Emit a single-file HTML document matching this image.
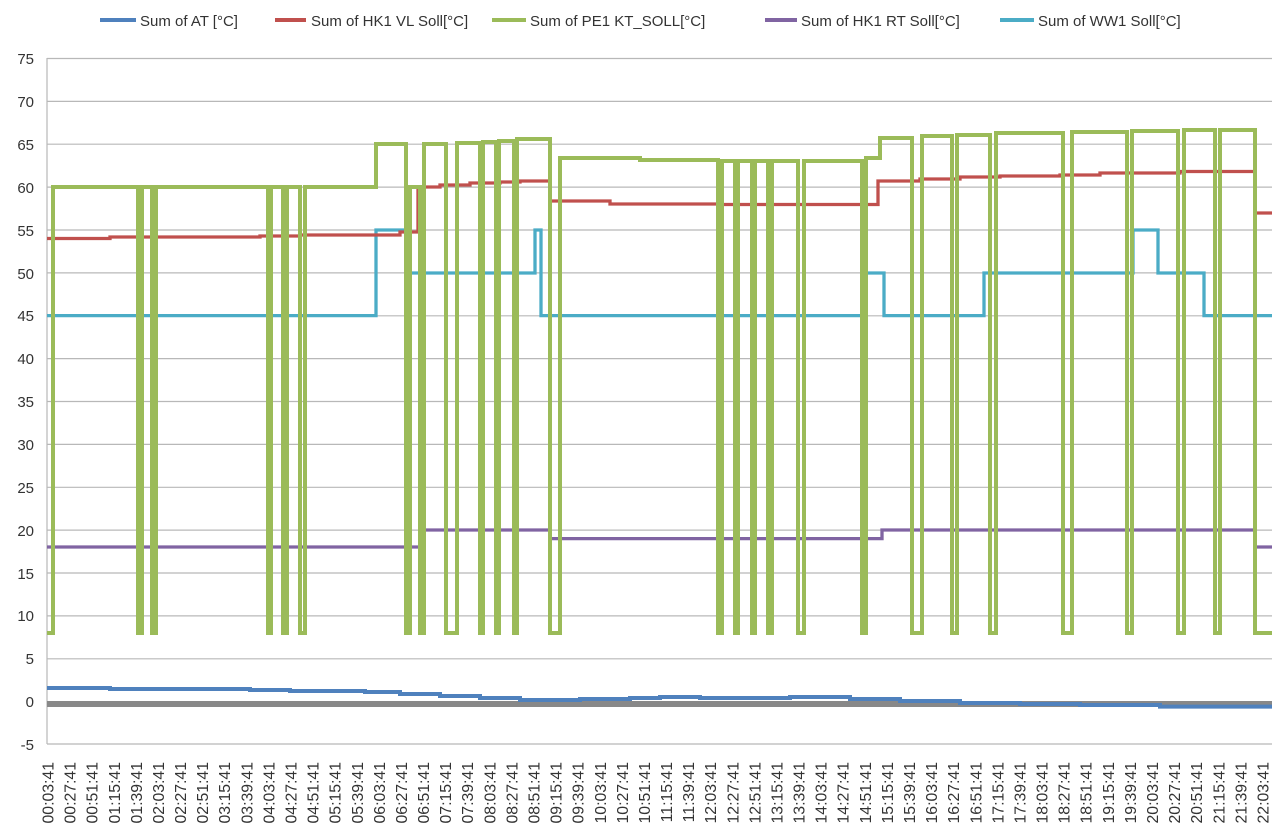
<!DOCTYPE html>
<html><head><meta charset="utf-8"><style>
body{margin:0;background:#fff;}
svg{display:block;font-family:"Liberation Sans",sans-serif;}
</style></head><body>
<svg width="1280" height="837" viewBox="0 0 1280 837" xmlns="http://www.w3.org/2000/svg">
<rect width="1280" height="837" fill="#fff"/>
<g stroke="#b8b8b8" stroke-width="1.2">
<line x1="47" x2="1272" y1="58.5" y2="58.5"/><line x1="47" x2="1272" y1="101.4" y2="101.4"/>
<line x1="47" x2="1272" y1="144.2" y2="144.2"/><line x1="47" x2="1272" y1="187.1" y2="187.1"/>
<line x1="47" x2="1272" y1="230" y2="230"/><line x1="47" x2="1272" y1="272.9" y2="272.9"/>
<line x1="47" x2="1272" y1="315.8" y2="315.8"/><line x1="47" x2="1272" y1="358.6" y2="358.6"/>
<line x1="47" x2="1272" y1="401.5" y2="401.5"/><line x1="47" x2="1272" y1="444.4" y2="444.4"/>
<line x1="47" x2="1272" y1="487.3" y2="487.3"/><line x1="47" x2="1272" y1="530.1" y2="530.1"/>
<line x1="47" x2="1272" y1="573" y2="573"/><line x1="47" x2="1272" y1="615.9" y2="615.9"/>
<line x1="47" x2="1272" y1="658.8" y2="658.8"/><line x1="47" x2="1272" y1="744" y2="744"/>
<line x1="47" x2="47" y1="58" y2="744"/>
</g>
<g font-size="15" fill="#333" text-anchor="end">
<text x="34" y="64">75</text><text x="34" y="107">70</text><text x="34" y="150">65</text><text x="34" y="193">60</text>
<text x="34" y="236">55</text><text x="34" y="279">50</text><text x="34" y="321">45</text><text x="34" y="364">40</text>
<text x="34" y="407">35</text><text x="34" y="450">30</text><text x="34" y="493">25</text><text x="34" y="536">20</text>
<text x="34" y="579">15</text><text x="34" y="621">10</text><text x="34" y="664">5</text><text x="34" y="707">0</text>
<text x="34" y="750">-5</text>
</g>
<line x1="47" x2="1272" y1="704" y2="704" stroke="#888" stroke-width="6"/>
<path d="M47,688 H110 V689 H250 V690 H290 V691 H365 V692 H400 V694 H440 V696 H480 V698 H520 V700 H580 V699 H630 V698 H660 V697 H700 V698 H790 V697 H850 V699 H900 V701 H960 V703 H1020 V704 H1080 V705 H1160 V706.6 H1272" fill="none" stroke="#4f81bd" stroke-width="4"/>
<path d="M47,547 H420 V530 H550 V538.6 H882 V530 H1255 V547 H1272" fill="none" stroke="#8064a2" stroke-width="3.3"/>
<path d="M47,315.6 H376 V230 H407 V273 H535 V230 H541 V315.6 H864 V273 H884 V315.6 H984 V273 H1133 V230 H1158 V273 H1204 V315.6 H1272" fill="none" stroke="#4bacc6" stroke-width="3.3"/>
<path d="M47,238.5 H110 V237 H260 V236 H300 V235 H400 V232 H418 V187 H440 V185 H470 V183 H500 V182 H520 V181 H550 V201 H610 V204 H720 V204.5 H878 V181 H920 V179 H960 V177 H1000 V176 H1060 V175 H1100 V173 H1180 V171.5 H1255 V213 H1272" fill="none" stroke="#c0504d" stroke-width="3.3"/>
<path d="M47,633 H53 V187 H138 V633 H142 V187 H152 V633 H156 V187 H268 V633 H271 V187 H283 V633 H287 V187 H300 V633 H305 V187 H376 V144 H406 V633 H410 V187 H420 V633 H424 V144 H446 V633 H457 V143 H480 V633 H483 V142 H496 V633 H499 V141 H514 V633 H517 V139 H550 V633 H560 V158 H640 V160 H718 V633 H722 V161 H735 V633 H738 V161 H752 V633 H755 V161 H768 V633 H772 V161 H798 V633 H804 V161 H862 V633 H866 V158 H880 V138 H912 V633 H922 V136 H952 V633 H957 V135 H990 V633 H996 V133 H1063 V633 H1072 V132 H1127 V633 H1132 V131 H1178 V633 H1184 V130 H1215 V633 H1220 V130 H1255 V633 H1272" fill="none" stroke="#9bbb59" stroke-width="4"/>
<g font-size="15" fill="#333">
<line x1="100" x2="136" y1="20" y2="20" stroke="#4f81bd" stroke-width="4"/><text x="140" y="26">Sum of AT [°C]</text>
<line x1="275" x2="306" y1="20" y2="20" stroke="#c0504d" stroke-width="4"/><text x="311" y="26">Sum of HK1  VL Soll[°C]</text>
<line x1="492" x2="526" y1="20" y2="20" stroke="#9bbb59" stroke-width="4"/><text x="530" y="26">Sum of PE1 KT_SOLL[°C]</text>
<line x1="765" x2="797" y1="20" y2="20" stroke="#8064a2" stroke-width="4"/><text x="801" y="26">Sum of HK1 RT Soll[°C]</text>
<line x1="1000" x2="1034" y1="20" y2="20" stroke="#4bacc6" stroke-width="4"/><text x="1038" y="26">Sum of WW1 Soll[°C]</text>
</g>
<g font-size="15.8" fill="#333" text-anchor="end">
<text transform="translate(53.5,762) rotate(-90)">00:03:41</text>
<text transform="translate(75.6,762) rotate(-90)">00:27:41</text>
<text transform="translate(97.7,762) rotate(-90)">00:51:41</text>
<text transform="translate(119.8,762) rotate(-90)">01:15:41</text>
<text transform="translate(141.9,762) rotate(-90)">01:39:41</text>
<text transform="translate(164.0,762) rotate(-90)">02:03:41</text>
<text transform="translate(186.0,762) rotate(-90)">02:27:41</text>
<text transform="translate(208.1,762) rotate(-90)">02:51:41</text>
<text transform="translate(230.2,762) rotate(-90)">03:15:41</text>
<text transform="translate(252.3,762) rotate(-90)">03:39:41</text>
<text transform="translate(274.4,762) rotate(-90)">04:03:41</text>
<text transform="translate(296.5,762) rotate(-90)">04:27:41</text>
<text transform="translate(318.6,762) rotate(-90)">04:51:41</text>
<text transform="translate(340.7,762) rotate(-90)">05:15:41</text>
<text transform="translate(362.8,762) rotate(-90)">05:39:41</text>
<text transform="translate(384.9,762) rotate(-90)">06:03:41</text>
<text transform="translate(406.9,762) rotate(-90)">06:27:41</text>
<text transform="translate(429.0,762) rotate(-90)">06:51:41</text>
<text transform="translate(451.1,762) rotate(-90)">07:15:41</text>
<text transform="translate(473.2,762) rotate(-90)">07:39:41</text>
<text transform="translate(495.3,762) rotate(-90)">08:03:41</text>
<text transform="translate(517.4,762) rotate(-90)">08:27:41</text>
<text transform="translate(539.5,762) rotate(-90)">08:51:41</text>
<text transform="translate(561.6,762) rotate(-90)">09:15:41</text>
<text transform="translate(583.7,762) rotate(-90)">09:39:41</text>
<text transform="translate(605.8,762) rotate(-90)">10:03:41</text>
<text transform="translate(627.8,762) rotate(-90)">10:27:41</text>
<text transform="translate(649.9,762) rotate(-90)">10:51:41</text>
<text transform="translate(672.0,762) rotate(-90)">11:15:41</text>
<text transform="translate(694.1,762) rotate(-90)">11:39:41</text>
<text transform="translate(716.2,762) rotate(-90)">12:03:41</text>
<text transform="translate(738.3,762) rotate(-90)">12:27:41</text>
<text transform="translate(760.4,762) rotate(-90)">12:51:41</text>
<text transform="translate(782.5,762) rotate(-90)">13:15:41</text>
<text transform="translate(804.6,762) rotate(-90)">13:39:41</text>
<text transform="translate(826.7,762) rotate(-90)">14:03:41</text>
<text transform="translate(848.7,762) rotate(-90)">14:27:41</text>
<text transform="translate(870.8,762) rotate(-90)">14:51:41</text>
<text transform="translate(892.9,762) rotate(-90)">15:15:41</text>
<text transform="translate(915.0,762) rotate(-90)">15:39:41</text>
<text transform="translate(937.1,762) rotate(-90)">16:03:41</text>
<text transform="translate(959.2,762) rotate(-90)">16:27:41</text>
<text transform="translate(981.3,762) rotate(-90)">16:51:41</text>
<text transform="translate(1003.4,762) rotate(-90)">17:15:41</text>
<text transform="translate(1025.5,762) rotate(-90)">17:39:41</text>
<text transform="translate(1047.6,762) rotate(-90)">18:03:41</text>
<text transform="translate(1069.6,762) rotate(-90)">18:27:41</text>
<text transform="translate(1091.7,762) rotate(-90)">18:51:41</text>
<text transform="translate(1113.8,762) rotate(-90)">19:15:41</text>
<text transform="translate(1135.9,762) rotate(-90)">19:39:41</text>
<text transform="translate(1158.0,762) rotate(-90)">20:03:41</text>
<text transform="translate(1180.1,762) rotate(-90)">20:27:41</text>
<text transform="translate(1202.2,762) rotate(-90)">20:51:41</text>
<text transform="translate(1224.3,762) rotate(-90)">21:15:41</text>
<text transform="translate(1246.4,762) rotate(-90)">21:39:41</text>
<text transform="translate(1268.5,762) rotate(-90)">22:03:41</text>
</g>
</svg>
</body></html>
